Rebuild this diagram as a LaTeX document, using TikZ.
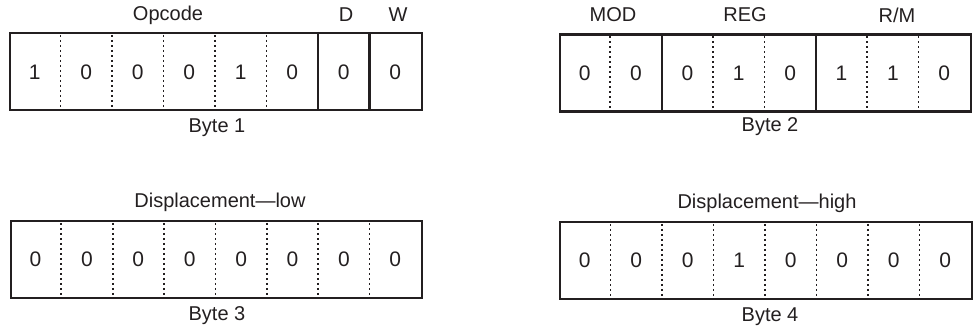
\documentclass[tikz,border=0pt]{standalone}
\usepackage{fontspec}
\setmainfont{Liberation Sans}
\usetikzlibrary{calc}
\definecolor{ink}{HTML}{231F20}
\begin{document}
\begin{tikzpicture}[x=1pt,y=-1pt,
  lbl/.style={font=\fontsize{20}{22}\selectfont, text=ink, inner sep=0pt, anchor=center},
  bit/.style={font=\fontsize{21}{22}\selectfont, text=ink, inner sep=0pt, anchor=center},
  bytebox/.style={draw=ink, line width=2.2pt, minimum height=77pt, inner sep=0pt, rectangle},
  soliddiv/.style={draw=ink, line width=2.2pt},
  dotdiv/.style={draw=ink, line width=1.7pt, dash pattern=on 2pt off 3pt},
]
\useasboundingbox (0,0) rectangle (973,330);

% ---------- Byte 1 ----------
\node[bytebox, minimum width=412pt] (b1) at (216,71.5) {};
\foreach \i in {1,...,5}{
  \draw[dotdiv] ($(b1.north west)+(\i*51.5,3)$) -- ($(b1.south west)+(\i*51.5,0)$);
}
\foreach \i in {6,7}{
  \draw[soliddiv] ($(b1.north west)+(\i*51.5,0)$) -- ($(b1.south west)+(\i*51.5,0)$);
}
\foreach \v [count=\i] in {1,0,0,0,1,0,0,0}{
  \node[bit] (b1c\i) at ($(b1.west)+(\i*51.5-25.75,1)$) {\v};
}
\node[lbl] (op) at (168,15) {Opcode};
\node[lbl] (dl) at (346,15) {D};
\node[lbl] (wl) at (398,15) {W};
\node[lbl] (by1) at (217,128) {Byte 1};

% ---------- Byte 2 ----------
\node[bytebox, minimum width=411pt] (b2) at (765.5,73) {};
\foreach \i in {1,3,4,6,7}{
  \draw[dotdiv] ($(b2.north west)+(\i*51.375,3)$) -- ($(b2.south west)+(\i*51.375,0)$);
}
\foreach \i in {2,5}{
  \draw[soliddiv] ($(b2.north west)+(\i*51.375,0)$) -- ($(b2.south west)+(\i*51.375,0)$);
}
\foreach \v [count=\i] in {0,0,0,1,0,1,1,0}{
  \node[bit] (b2c\i) at ($(b2.west)+(\i*51.375-25.69,0)$) {\v};
}
\node[lbl] (mod) at (613,15) {MOD};
\node[lbl] (reg) at (745,15) {REG};
\node[lbl] (rm) at (897,15) {R/M};
\node[lbl] (by2) at (770,127) {Byte 2};

% ---------- Byte 3 ----------
\node[bytebox, minimum width=411pt] (b3) at (216.5,259.5) {};
\foreach \i in {1,...,7}{
  \draw[dotdiv] ($(b3.north west)+(\i*51.375,3)$) -- ($(b3.south west)+(\i*51.375,0)$);
}
\foreach \v [count=\i] in {0,0,0,0,0,0,0,0}{
  \node[bit] (b3c\i) at ($(b3.west)+(\i*51.375-25.69,0)$) {\v};
}
\node[lbl] (dlow) at (220,202) {Displacement---low};
\node[lbl] (by3) at (217,316) {Byte 3};

% ---------- Byte 4 ----------
\node[bytebox, minimum width=412pt] (b4) at (766,260.5) {};
\foreach \i in {1,...,7}{
  \draw[dotdiv] ($(b4.north west)+(\i*51.5,3)$) -- ($(b4.south west)+(\i*51.5,0)$);
}
\foreach \v [count=\i] in {0,0,0,1,0,0,0,0}{
  \node[bit] (b4c\i) at ($(b4.west)+(\i*51.5-25.75,0)$) {\v};
}
\node[lbl] (dhigh) at (767,203) {Displacement---high};
\node[lbl] (by4) at (770,317) {Byte 4};
\end{tikzpicture}
\end{document}
